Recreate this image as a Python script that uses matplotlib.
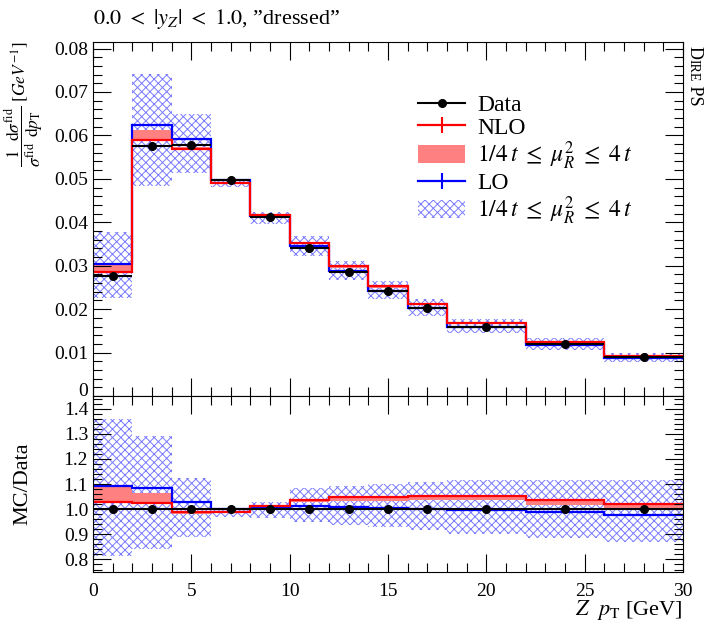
import numpy as np
import matplotlib
matplotlib.use("Agg")
import matplotlib.pyplot as plt
from matplotlib.ticker import MultipleLocator, FuncFormatter
from matplotlib.lines import Line2D
from matplotlib.patches import Patch

plt.rcParams['font.family'] = ['Liberation Serif', 'DejaVu Serif']
plt.rcParams['mathtext.fontset'] = 'stix'
plt.rcParams['font.size'] = 15
plt.rcParams['hatch.linewidth'] = 0.7

# bins in Z pT [GeV]
edges = np.array([0, 2, 4, 6, 8, 10, 12, 14, 16, 18, 22, 26, 30])

# 1/sigma dsigma/dpT [GeV^-1]
data = np.array([0.0277, 0.0575, 0.0577, 0.0498, 0.0411, 0.0340,
                 0.0285, 0.0241, 0.0202, 0.0160, 0.0119, 0.0089])

nlo = np.array([0.02845, 0.05888, 0.05695, 0.04915, 0.04163, 0.03526,
                0.02987, 0.02526, 0.02125, 0.01685, 0.01234, 0.00910])
nlo_lo = np.array([0.02845, 0.05888, 0.05655, 0.04895, 0.04143, 0.03492,
                   0.02941, 0.02490, 0.02095, 0.01659, 0.01211, 0.00894])
nlo_hi = np.array([0.03014, 0.06118, 0.05730, 0.04930, 0.04176, 0.03536,
                   0.02993, 0.02531, 0.02129, 0.01688, 0.01238, 0.00912])

lo = np.array([0.03028, 0.06233, 0.05926, 0.04980, 0.04143, 0.03444,
               0.02873, 0.02417, 0.02020, 0.01597, 0.01176, 0.00870])
lo_lo = np.array([0.02258, 0.04830, 0.05124, 0.04821, 0.03966, 0.03230,
                  0.02670, 0.02241, 0.01852, 0.01440, 0.01053, 0.00772])
lo_hi = np.array([0.03767, 0.07418, 0.06485, 0.04995, 0.04233, 0.03686,
                  0.03107, 0.02651, 0.02242, 0.01784, 0.01327, 0.00992])

centers = 0.5 * (edges[1:] + edges[:-1])
halfw = 0.5 * (edges[1:] - edges[:-1])

blue_hatch = '#7a7aff'
red_band = '#ff8080'

fig = plt.figure(figsize=(7.06, 6.32), dpi=100)
ax = fig.add_axes([0.1317, 0.3734, 0.8357, 0.5601])
rax = fig.add_axes([0.1317, 0.0949, 0.8357, 0.2785], sharex=ax)


def draw(a, scale):
    a.stairs(lo_hi / scale, edges, baseline=lo_lo / scale, fill=True,
             facecolor='none', edgecolor=blue_hatch, hatch='xxxx', lw=0)
    a.stairs(nlo_hi / scale, edges, baseline=nlo_lo / scale, fill=True,
             color=red_band, lw=0)
    a.stairs(lo / scale, edges, baseline=None, color='blue', lw=1.6)
    a.stairs(nlo / scale, edges, baseline=None, color='red', lw=1.6)
    a.errorbar(centers, data / scale, xerr=halfw, fmt='o', color='black',
               ms=5.5, lw=1.5, capsize=0, zorder=5)


draw(ax, 1.0)
draw(rax, data)

ax.set_xlim(0, 30)
ax.set_ylim(0, 0.0815)
rax.set_ylim(0.75, 1.45)

for a in (ax, rax):
    a.xaxis.set_major_locator(MultipleLocator(5))
    a.xaxis.set_minor_locator(MultipleLocator(1))
    a.tick_params(which='both', direction='in', top=True, right=True,
                  width=0.8, labelsize=14)
    a.tick_params(which='major', length=13)
    a.tick_params(which='minor', length=6.5)
ax.yaxis.set_major_locator(MultipleLocator(0.01))
ax.yaxis.set_minor_locator(MultipleLocator(0.002))
ax.yaxis.set_major_formatter(FuncFormatter(lambda v, p: '0' if abs(v) < 1e-9 else f'{v:.2f}'))
rax.yaxis.set_major_locator(MultipleLocator(0.1))
rax.yaxis.set_minor_locator(MultipleLocator(0.02))
rax.yaxis.set_major_formatter(FuncFormatter(lambda v, p: f'{v:.1f}'))
ax.tick_params(labelbottom=False)
rax.tick_params(axis='x', pad=8)

ax.set_ylabel(r'$\dfrac{1}{\sigma^{\mathrm{fid}}}\dfrac{\mathrm{d}\sigma^{\mathrm{fid}}}{\mathrm{d}p_{\mathrm{T}}}\ [GeV^{-1}]$',
              loc='top', fontsize=12.5)
ax.yaxis.set_label_coords(-0.082, 1.0)
rax.set_ylabel('MC/Data', fontsize=16)
rax.yaxis.set_label_coords(-0.102, 0.5)
rax.set_xlabel(r'$Z\ \ p_{\mathrm{T}}$ [GeV]', loc='right', fontsize=16)
rax.xaxis.set_label_coords(1.0, -0.15)

ax.text(0, 1.052, r'$0.0\ <\ |y_Z|\ <\ 1.0$, ”dressed”', transform=ax.transAxes,
        ha='left', va='baseline', fontsize=16)

handles = [
    Line2D([], [], color='black', marker='o', ms=5.5, lw=1.5),
    Line2D([], [], color='red', marker='|', ms=12, mew=1.5, lw=1.6),
    Patch(facecolor=red_band, lw=0),
    Line2D([], [], color='blue', marker='|', ms=12, mew=1.5, lw=1.6),
    Patch(facecolor='none', edgecolor=blue_hatch, hatch='xxxx', lw=0),
]
labels = ['Data', 'NLO', r'$1/4\,t\ \leq\ \mu_R^2\ \leq\ 4\,t$', 'LO',
          r'$1/4\,t\ \leq\ \mu_R^2\ \leq\ 4\,t$']
ax.legend(handles, labels, loc='upper left', bbox_to_anchor=(0.551, 0.853),
          frameon=False, borderpad=0, borderaxespad=0, handlelength=2.0,
          handleheight=0.8, handletextpad=0.5, labelspacing=0.02, fontsize=17)

# keep the main panel's "0" clear of the ratio panel's top label
fig.canvas.draw()
for lab in ax.get_yticklabels():
    if lab.get_text() == '0':
        lab.set_va('baseline')

# "Dire PS" in small caps, written downwards on the right
renderer = fig.canvas.get_renderer()
xpos, ypos = 690 / 706, 1 - 46 / 632
for s, size in [('D', 13), ('IRE', 10), (' PS', 13)]:
    t = fig.text(xpos, ypos, s, rotation=270, rotation_mode='anchor',
                 ha='left', va='baseline', fontsize=size)
    bb = t.get_window_extent(renderer)
    ypos = fig.transFigure.inverted().transform((0, bb.y0))[1]

fig.savefig('out.png', dpi=100)
